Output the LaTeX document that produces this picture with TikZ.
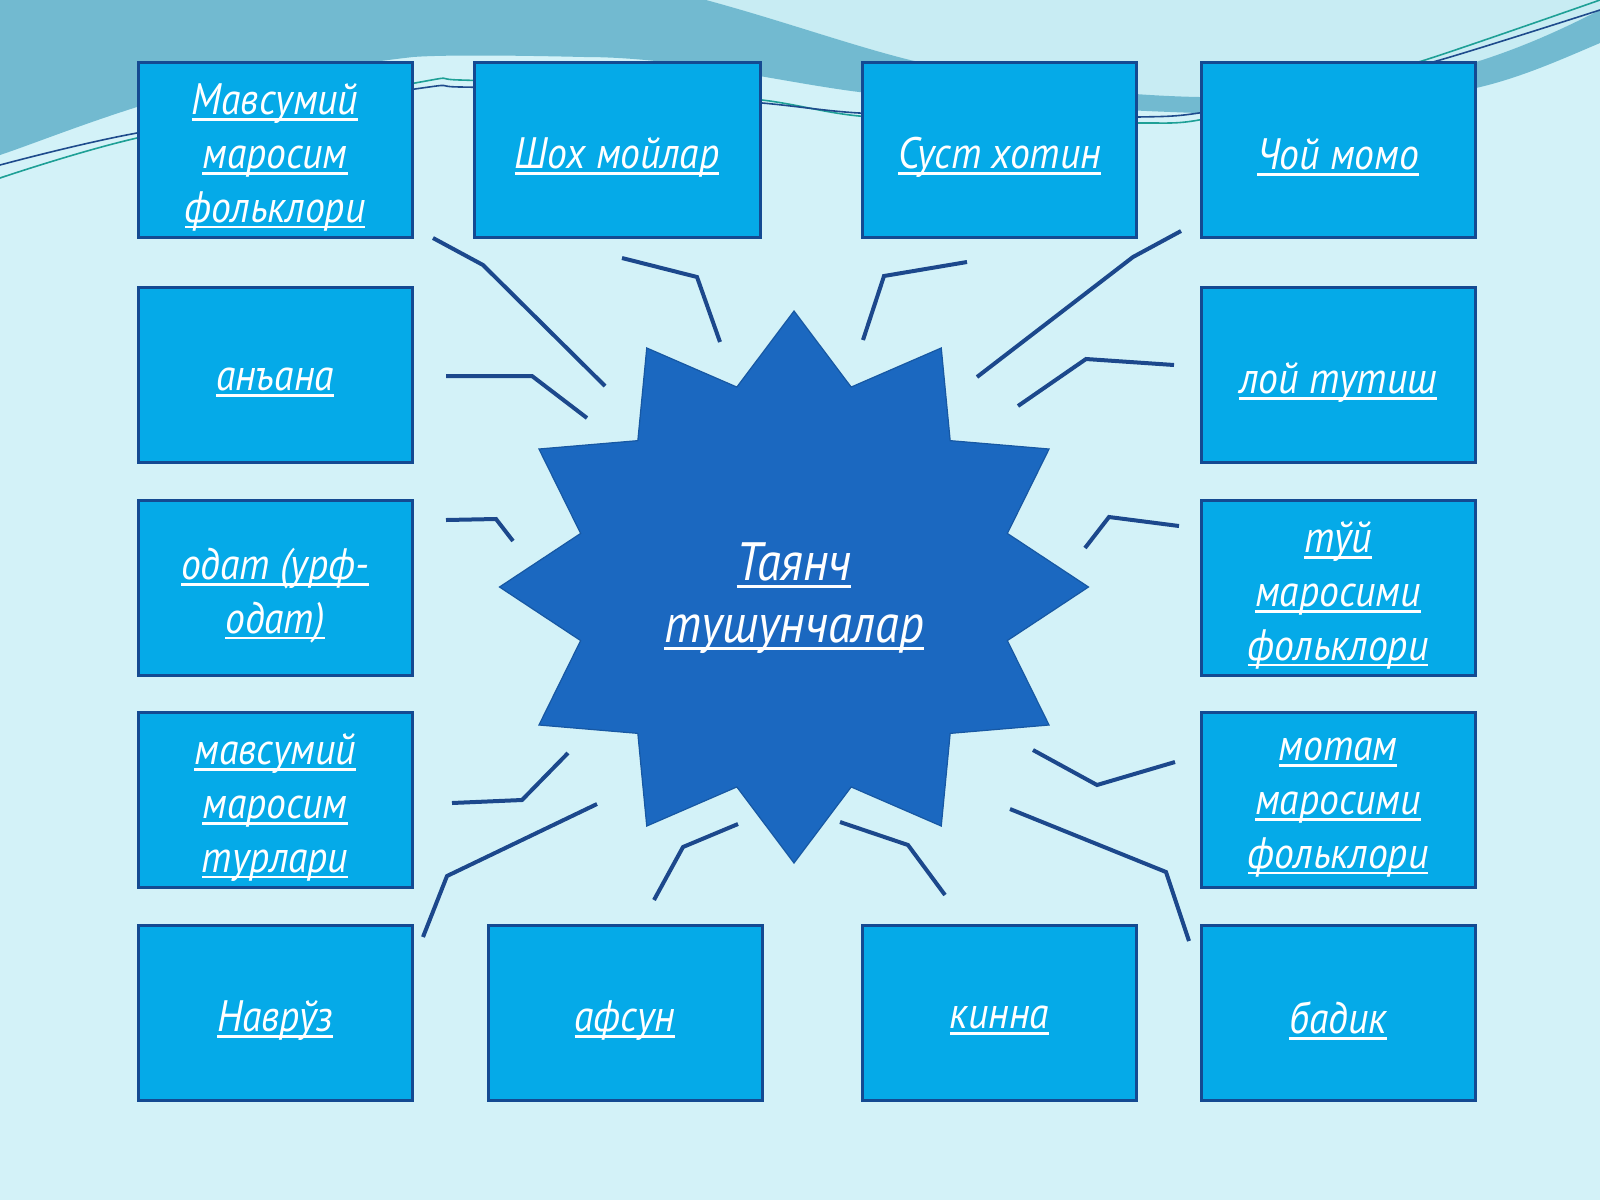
\documentclass[tikz,border=0pt]{standalone}
\usepackage{fontspec}
\setmainfont{PT Sans}[FakeStretch=0.9]
\usetikzlibrary{math}
\definecolor{bgcyan}{RGB}{211,242,248}
\definecolor{toplight}{RGB}{200,236,243}
\definecolor{wavedark}{RGB}{114,186,208}
\definecolor{thinnavy}{RGB}{30,75,140}
\definecolor{thingreen}{RGB}{30,160,150}
\definecolor{boxfill}{RGB}{5,170,232}
\definecolor{boxline}{RGB}{20,74,146}
\definecolor{starfill}{RGB}{27,104,192}
\definecolor{spoke}{RGB}{28,72,140}
\newcommand{\ulw}[1]{\setbox0\hbox{#1}\rlap{\rule[-0.14em]{\wd0}{0.06em}}\box0}

\begin{document}
\begin{tikzpicture}[x=0.5pt,y=-0.5pt,
    boxtext/.style={text=white, align=center, inner sep=0pt, yshift=-4pt, font=\itshape\fontsize{22}{26.8}\selectfont},
    box/.style={draw=boxline, line width=1.5pt, fill=boxfill, minimum width=137pt, minimum height=87.5pt,
      inner sep=0pt, label={[boxtext]center:#1}},
    startext/.style={text=white, align=center, font=\itshape\fontsize{27}{31}\selectfont},
    spokeline/.style={spoke, line width=2pt}]
  \tikzmath{\cx = 794; \cy = 587; \rx = 294.5; \ry = 276; \ri = 0.75;}
  \useasboundingbox (0,0) rectangle (1600,1200);
  \fill[bgcyan] (0,0) rectangle (1600,1200);
  \fill[toplight] (706,0) .. controls (780,20) and (850,45) .. (910,60) .. controls (1000,80) and (1100,95) .. (1199,97)
    .. controls (1300,100) and (1400,80) .. (1476,62) .. controls (1530,45) and (1570,25) .. (1600,10) -- (1600,0) -- cycle;
  \fill[wavedark] (0,0) -- (706,0) .. controls (780,20) and (850,45) .. (910,60) .. controls (1000,80) and (1100,95) .. (1199,97)
    .. controls (1300,100) and (1400,80) .. (1476,62) .. controls (1530,45) and (1570,25) .. (1600,10) -- (1600,43)
    .. controls (1560,60) and (1520,78) .. (1476,88) .. controls (1400,110) and (1300,115) .. (1199,113)
    .. controls (1100,110) and (950,100) .. (859,92) .. controls (780,82) and (680,57) .. (584,57)
    .. controls (500,55) and (440,55) .. (413,57) .. controls (300,70) and (180,95) .. (137,107)
    .. controls (80,125) and (30,145) .. (0,155) -- cycle;
  \draw[thingreen, line width=0.8pt] plot[smooth] coordinates {(0,178) (137,138) (415,83) (460,80) (620,88) (762,100) (859,116) (1000,122) (1138,123) (1199,120) (1310,92) (1425,60) (1600,0)};
  \draw[thinnavy, line width=0.8pt] plot[smooth] coordinates {(0,165) (137,133) (415,89) (460,87) (620,92) (762,103) (859,113) (1000,117) (1138,117) (1199,113) (1320,90) (1440,60) (1600,10)};

  \node[box={\ulw{Мавсумий}\\ \ulw{маросим}\\ \ulw{фольклори}}] (mavsumfolk) at (275,149.5) {};
  \node[box={\ulw{Шох мойлар}}, minimum width=143pt] (shoh) at (617,149.5) {};
  \node[box={\ulw{Суст хотин}}] (sust) at (999.5,149.5) {};
  \node[box={\ulw{Чой момо}}] (choy) at (1338,149.5) {};
  \node[box={\ulw{анъана}}] (anana) at (275,374.5) {};
  \node[box={\ulw{лой тутиш}}] (loy) at (1338,374.5) {};
  \node[box={\ulw{одат (урф-}\\ \ulw{одат)}}] (odat) at (275,587.5) {};
  \node[box={\ulw{тўй}\\ \ulw{маросими}\\ \ulw{фольклори}}] (tuy) at (1338,587.5) {};
  \node[box={\ulw{мавсумий}\\ \ulw{маросим}\\ \ulw{турлари}}] (mavsumtur) at (275,799.5) {};
  \node[box={\ulw{мотам}\\ \ulw{маросими}\\ \ulw{фольклори}}] (motam) at (1338,799.5) {};
  \node[box={\ulw{Наврўз}}] (navruz) at (275,1012.5) {};
  \node[box={\ulw{афсун}}] (afsun) at (625,1012.5) {};
  \node[box={\ulw{кинна}}] (kinna) at (999.5,1012.5) {};
  \node[box={\ulw{бадик}}] (badik) at (1338,1012.5) {};

  \fill[starfill, draw=starfill!85!black, line width=0.6pt] plot[variable=\t, samples at={0,15,...,345}]
    ({\cx+\rx*ifthenelse(mod(\t,30)==0,1,\ri)*sin(\t)}, {\cy-\ry*ifthenelse(mod(\t,30)==0,1,\ri)*cos(\t)}) -- cycle;
  \node[startext] (tayanch) at (\cx,598) {\ulw{Таянч}\\ \ulw{тушунчалар}};

  \draw[spokeline] (433,238) -- (483,265) -- (605,386);
  \draw[spokeline] (622,258) -- (697,277) -- (720,342);
  \draw[spokeline] (967,262) -- (884,276) -- (863,340);
  \draw[spokeline] (1181,231) -- (1133,257) -- (977,377);
  \draw[spokeline] (446,376) -- (532,376) -- (587,418);
  \draw[spokeline] (1174,365) -- (1086,359) -- (1018,406);
  \draw[spokeline] (446,520) -- (496,519) -- (513,541);
  \draw[spokeline] (1179,526) -- (1109,517) -- (1085,548);
  \draw[spokeline] (452,803) -- (522,800) -- (568,753);
  \draw[spokeline] (1033,750) -- (1097,785) -- (1175,762);
  \draw[spokeline] (423,937) -- (447,876) -- (597,804);
  \draw[spokeline] (1010,809) -- (1166,872) -- (1189,941);
  \draw[spokeline] (654,900) -- (683,847) -- (738,824);
  \draw[spokeline] (840,822) -- (908,845) -- (945,895);
\end{tikzpicture}
\end{document}
